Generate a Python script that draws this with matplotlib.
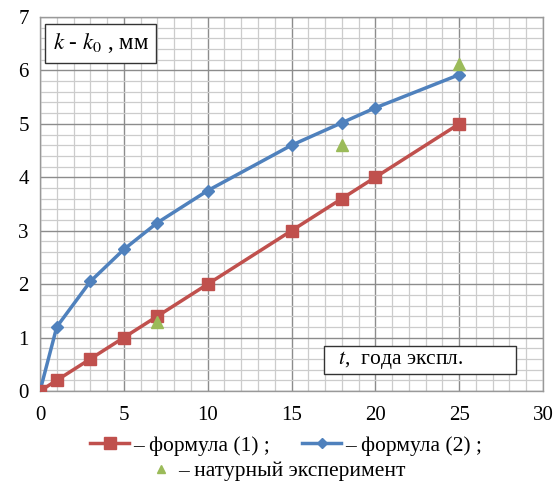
import numpy as np
from matplotlib import pyplot as plt
from matplotlib.lines import Line2D
from matplotlib.ticker import MultipleLocator

plt.rcParams['font.family'] = ['Liberation Serif', 'DejaVu Serif']

# формула (1)
t1 = [0, 1, 3, 5, 7, 10, 15, 18, 20, 25]
k1 = [0, 0.2, 0.6, 1.0, 1.4, 2.0, 3.0, 3.6, 4.0, 5.0]
# формула (2)
t2 = [0, 1, 3, 5, 7, 10, 15, 18, 20, 25]
k2 = [0, 1.2, 2.05, 2.65, 3.15, 3.75, 4.6, 5.02, 5.3, 5.92]
# натурный эксперимент
t3 = [7, 18, 25]
k3 = [1.3, 4.6, 6.12]

red = "#c0504d"
blue = "#4f81bd"
green = "#9bbb59"

fig = plt.figure(figsize=(5.56, 4.88), dpi=100)
ax = fig.add_axes([40/556, 1-391/488, 503/556, 374/488])

ax.plot(t2, k2, color=blue, linewidth=2.5, marker="D", markersize=6, zorder=3)
ax.plot(t1, k1, color=red, linewidth=2.5, marker="s", markersize=9, zorder=4)
ax.plot(t3, k3, color=green, linestyle="none", marker="^", markersize=8, zorder=5)

ax.set_xlim(0, 30)
ax.set_ylim(0, 7)
ax.xaxis.set_major_locator(MultipleLocator(5))
ax.yaxis.set_major_locator(MultipleLocator(1))
ax.xaxis.set_minor_locator(MultipleLocator(1))
ax.yaxis.set_minor_locator(MultipleLocator(0.2))
ax.grid(which='major', linewidth=1.0, color='0.55')
ax.grid(which='minor', linewidth=0.9, color='0.8')
ax.set_axisbelow(True)
ax.tick_params(which='both', length=0, labelsize=15)
ax.tick_params(axis='x', pad=11)
ax.tick_params(axis='y', pad=8)
for s in ax.spines.values():
    s.set_color('0.6')
    s.set_linewidth(1.0)

ax.text(0.025, 0.93, r"$k$ - $k_0$ , мм", transform=ax.transAxes, fontsize=16.5,
        ha="left", va="center", math_fontfamily='stix',
        bbox=dict(boxstyle="square,pad=0.32", facecolor="white", edgecolor="0.2", linewidth=1))
ax.text(0.572, 0.083, r"  $t$,  года экспл.          ", transform=ax.transAxes, fontsize=15.5,
        ha="left", va="center", math_fontfamily='stix',
        bbox=dict(boxstyle="square,pad=0.15", facecolor="white", edgecolor="0.2", linewidth=1))

h1 = Line2D([], [], color=red, linewidth=2.5, marker="s", markersize=8)
h2 = Line2D([], [], color=blue, linewidth=2.5, marker="D", markersize=5)
h3 = Line2D([], [], color=green, linestyle="none", marker="^", markersize=6)
leg1 = fig.legend([h1, h2], ["– формула (1) ;", "– формула (2) ;"], ncol=2,
                  loc="center", bbox_to_anchor=(0.515, 1-446/488), frameon=False,
                  fontsize=15.5, handlelength=1.8, handletextpad=0.2, columnspacing=1.5,
                  borderpad=0)
leg2 = fig.legend([h3], ["– натурный эксперимент"], loc="center",
                  bbox_to_anchor=(0.5, 1-471/488), frameon=False, fontsize=15.5,
                  handlelength=1.0, handletextpad=0.3, borderpad=0)

fig.savefig("out.png", dpi=100)
